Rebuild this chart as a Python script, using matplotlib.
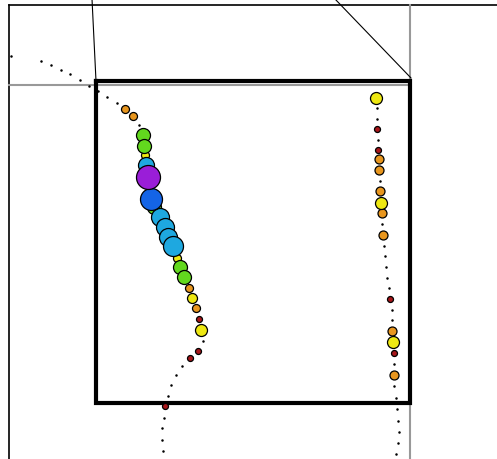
import numpy as np
import matplotlib
matplotlib.use("Agg")
import matplotlib.pyplot as plt

# trajectory points (small black dots), in plot units (y grows downwards)
left_dot_x = [11, 40.7, 50.7, 61, 70.3, 80, 89.3, 98.3, 107.3, 116.5, 139.3,
              202.7, 182, 176, 171.3, 168.3, 163.7, 162, 162, 162.7]
left_dot_y = [57, 61.7, 65.7, 70.7, 75, 81, 87, 92.3, 98.3, 103.7, 126,
              342, 366.7, 375.7, 385.7, 396.7, 418.7, 429.3, 440.7, 452.3]
right_dot_x = [376.7, 377, 377.7, 380, 382.3, 384.3, 385, 386, 387.3, 389,
               391.7, 392.3, 394.3, 394.3, 395.7, 397, 398.3, 398.7, 398.3, 396.3]
right_dot_y = [109.3, 120, 141, 181.7, 225, 246.7, 257.3, 268.3, 278.7, 289.3,
               310.7, 321.3, 365, 386.7, 399, 410.3, 422.3, 433, 444, 455]

# events (coloured circles): position, radius, category
ev_x = [125.3, 133, 143.3, 144, 145, 146, 147.7, 150.7, 154, 160, 165, 168.3,
        172.7, 176.7, 180, 184.3, 188.7, 192.3, 195.7, 198.7, 201, 198, 190, 165,
        376, 377.3, 378.3, 378.7, 379, 380.3, 381, 381.7, 382.7, 390.3, 392,
        392.7, 393.7, 393.7]
ev_y = [110, 117.3, 136, 147.3, 156, 166, 178.3, 200, 208, 218, 228, 238.3,
        247.3, 259.3, 268.3, 278.3, 289.3, 299, 309.3, 320, 330.7, 351.7, 359.3, 407.3,
        99.3, 130, 150.7, 160, 170.7, 191.7, 204, 214, 235.5, 300, 332,
        343.3, 353.7, 375.7]
ev_r = [4, 4, 7, 7, 4, 8, 12, 11, 7, 9, 9, 9,
        10, 4, 7, 7, 4, 5, 4, 3, 6, 3, 3, 3,
        6, 3, 3, 4.5, 4.5, 4.5, 6, 4.5, 4.5, 3, 4.5,
        6, 3, 4.5]
ev_c = ['o', 'o', 'g', 'g', 'y', 'c', 'p', 'b', 'g', 'c', 'c', 'c',
        'c', 'y', 'g', 'g', 'o', 'y', 'o', 'r', 'y', 'r', 'r', 'r',
        'y', 'r', 'r', 'o', 'o', 'o', 'y', 'o', 'o', 'r', 'o',
        'y', 'r', 'o']

colors = {'o': '#E8961E', 'g': '#62D81E', 'y': '#EEE812', 'c': '#1EA8E0',
          'p': '#9A1ED8', 'b': '#1464E6', 'r': '#A8161A'}

fig = plt.figure(figsize=(4.97, 4.6), dpi=100)
ax = fig.add_axes([0, 0, 1, 1])
ax.set_xlim(0, 497)
ax.set_ylim(460, 0)
ax.axis('off')

# outer frame and zoom guide lines
ax.plot([9, 497], [6, 6], color='black', lw=1.2)
ax.plot([9, 9], [6, 460], color='black', lw=1.2)
ax.plot([9, 410], [86, 86], color='#999999', lw=1.5)
ax.plot([410, 410], [6, 460], color='#999999', lw=1.5)
ax.plot([92, 96], [0, 82], color='black', lw=0.8)
ax.plot([335, 411], [0, 79], color='black', lw=0.8)

# inset box
ax.plot([96, 410, 410, 96, 96], [82, 82, 404, 404, 82], color='black', lw=3,
        solid_joinstyle='miter')

ax.plot(left_dot_x, left_dot_y, 'k.', ms=1.6, ls='none')
ax.plot(right_dot_x, right_dot_y, 'k.', ms=1.6, ls='none')

order = np.argsort(ev_r, kind='stable')
for i in order:
    d = 2 * ev_r[i] * 0.72
    ax.scatter(ev_x[i], ev_y[i], s=d ** 2, color=colors[ev_c[i]],
               edgecolors='black', linewidths=0.9, zorder=3)

fig.savefig('out.png', dpi=100)
